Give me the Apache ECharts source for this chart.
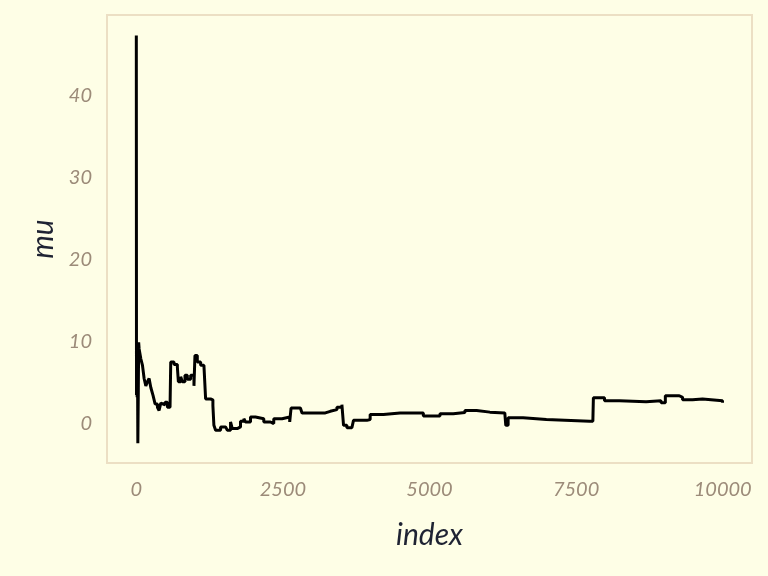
<!DOCTYPE html>
<html>
<head>
<meta charset="utf-8">
<script src="https://cdn.jsdelivr.net/npm/echarts@6/dist/echarts.min.js"></script>
<style>
html,body{margin:0;padding:0;background:#fefee6;}
#c{width:768px;height:576px;}
</style>
</head>
<body>
<div id="c"></div>
<script>
var iterIndex = [0,3,8,14,20,26,34,40,48,77,105,133,162,190,218,247,275,286,320,360,388,417,445,490,530,575,587,643,700,717,757,785,830,870,927,983,1000,1040,1097,1153,1182,1267,1306,1323,1352,1437,1522,1551,1607,1636,1721,1777,1834,1862,1947,2032,2061,2174,2287,2344,2486,2616,2639,2798,2826,3053,3223,3308,3421,3506,3534,3591,3676,3704,3932,3988,4214,4498,4668,4895,5179,5405,5604,5803,6029,6284,6301,6341,6596,6823,6993,7730,7786,7795,7985,8240,8694,8949,9022,9260,9316,9486,9656,9997];
var muValues = [47.3,3.5,9.5,3.2,8.0,-2.4,4.0,9.9,9.1,7.9,7.1,5.5,4.6,5.1,5.5,4.4,4.3,3.4,2.4,2.0,1.6,2.5,2.3,2.6,2.0,1.9,7.5,7.2,6.9,5.1,5.7,5.1,5.9,5.4,5.9,4.6,8.3,7.5,7.1,6.9,3.0,2.9,2.2,-0.2,-0.8,-0.4,-0.2,-0.8,0.2,-0.6,-0.4,0.3,0.6,0.2,0.8,1.0,0.6,0.2,0.0,0.6,0.8,0.2,1.9,1.7,1.3,1.3,1.5,1.7,2.0,2.3,-0.2,-0.5,-0.4,0.4,0.5,1.1,1.3,1.3,1.3,0.93,1.2,1.35,1.6,1.4,1.3,1.1,-0.2,0.7,0.6,0.5,0.3,0.3,0.4,3.15,2.8,2.67,2.8,2.55,3.4,3.2,2.9,3.0,2.8,2.55];
var xTicks = [0,2500,5000,7500,10000];
var yTicks = [0,10,20,30,40];
var xTitle = 'index';
var yTitle = 'mu';

var seriesData = iterIndex.map(function(x,i){return [x, muValues[i]];});
var fontFam = '"Lato", "DejaVu Sans", sans-serif';
var chart = echarts.init(document.getElementById('c'));
chart.setOption({
  backgroundColor: '#fefee6',
  animation: false,
  grid: {left:107, right:16, top:15, bottom:113, show:true, borderColor:'#ecdfc4', borderWidth:2, backgroundColor:'transparent'},
  xAxis: {
    type:'value', min:-500, max:10500,
    name: xTitle, nameLocation:'middle', nameGap:57,
    nameTextStyle:{fontFamily:fontFam, fontStyle:'italic', fontSize:30, color:'#1f2333'},
    axisLine:{show:false}, axisTick:{show:false}, splitLine:{show:false},
    axisLabel:{customValues:xTicks, formatter:function(v){return String(v);}, margin:17, fontFamily:fontFam, fontStyle:'italic', fontSize:20, color:'#9c8b79'}
  },
  yAxis: {
    type:'value', min:-4.8, max:49.8,
    name: yTitle, nameLocation:'middle', nameGap:48, nameRotate:90,
    nameTextStyle:{fontFamily:fontFam, fontStyle:'italic', fontSize:30, color:'#1f2333'},
    axisLine:{show:false}, axisTick:{show:false}, splitLine:{show:false},
    axisLabel:{customValues:yTicks, formatter:function(v){return String(v);}, margin:15, fontFamily:fontFam, fontStyle:'italic', fontSize:20, color:'#9c8b79'}
  },
  series: [{
    type:'line', data:seriesData, showSymbol:false, symbol:'none', step:'end',
    lineStyle:{color:'#000000', width:3}, z:3
  }]
});
</script>
</body>
</html>
